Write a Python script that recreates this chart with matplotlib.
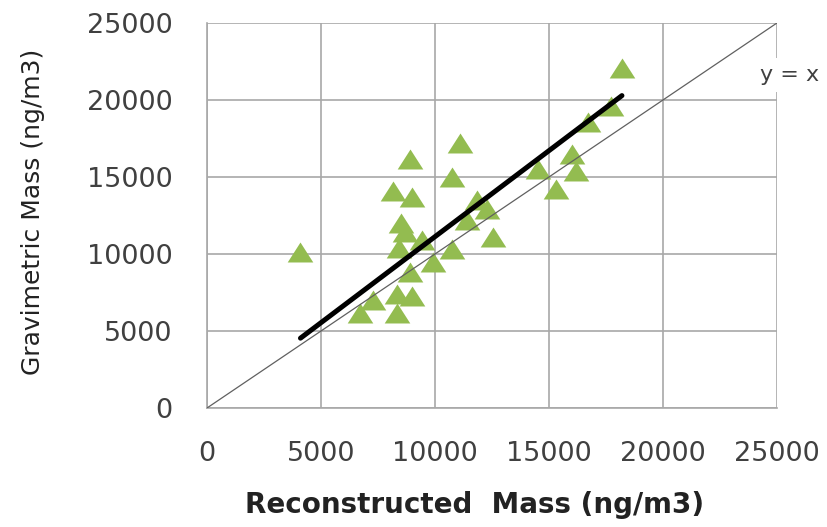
#import libraries
import numpy as np
import matplotlib.pyplot as plt
from matplotlib.path import Path

#Reconstructed vs gravimetric mass (ng/m3)
reconstructed = [4100, 6700, 7300, 8350, 8350, 9000, 8900, 9900, 8400, 9450,
                 10750, 8500, 8700, 8150, 9000, 8900, 10750, 11100, 11400, 11850,
                 12300, 12550, 14500, 15300, 16000, 16200, 16700, 17700, 18200]
gravimetric = [10100, 6200, 7000, 7400, 6200, 7300, 8800, 9500, 10400, 10900,
               10300, 12000, 11400, 14100, 13700, 16200, 15000, 17200, 12200, 13500,
               12900, 11100, 15500, 14200, 16500, 15400, 18600, 19600, 22100]

#Fitted line
fit_slope = 1.117
fit_intercept = -45

ticks = [0, 5000, 10000, 15000, 20000, 25000]

#Wide, flat triangle marker
tri = Path([(0, 0.78), (-1, -0.78), (1, -0.78), (0, 0.78)],
           [Path.MOVETO, Path.LINETO, Path.LINETO, Path.CLOSEPOLY])

fig = plt.figure(figsize=(8.27, 5.27), dpi=100)
ax = fig.add_axes([0.2503, 0.2258, 0.6892, 0.7306])

ax.set_xlim(0, 25000)
ax.set_ylim(0, 25000)
ax.set_xticks(ticks)
ax.set_yticks(ticks)
ax.grid(True, color="#a8a8a8", linewidth=1.2)
ax.set_axisbelow(True)
for side in ["top", "right"]:
    ax.spines[side].set_visible(False)
for side in ["left", "bottom"]:
    ax.spines[side].set_color("#a8a8a8")
    ax.spines[side].set_linewidth(1.2)
ax.tick_params(length=0, labelsize=19.5, labelcolor="#404040")
ax.tick_params(axis="x", pad=24)
ax.tick_params(axis="y", pad=25)

#Data points
ax.scatter(reconstructed, gravimetric, marker=tri, s=340, color="#93bc50",
           linewidths=0, zorder=3)

#1:1 line
ax.plot([0, 25000], [0, 25000], color="#606060", linewidth=0.9, zorder=4)

#Regression line over the data range
xfit = np.array([min(reconstructed), max(reconstructed)])
ax.plot(xfit, fit_slope * xfit + fit_intercept, color="black", linewidth=3.6,
        solid_capstyle="round", zorder=5)

ax.text(25550, 21600, "y = x", fontsize=16, color="#404040", ha="center",
        va="center", clip_on=False, zorder=6,
        bbox=dict(facecolor="white", edgecolor="none", pad=5))

ax.set_xlabel("Reconstructed  Mass (ng/m3)", fontsize=20, fontweight="bold",
              color="#222222")
ax.xaxis.set_label_coords(0.47, -0.215)
ax.set_ylabel("Gravimetric Mass (ng/m3)", fontsize=18, color="#222222")
ax.yaxis.set_label_coords(-0.285, 0.51)

fig.savefig("out.png", dpi=100)
